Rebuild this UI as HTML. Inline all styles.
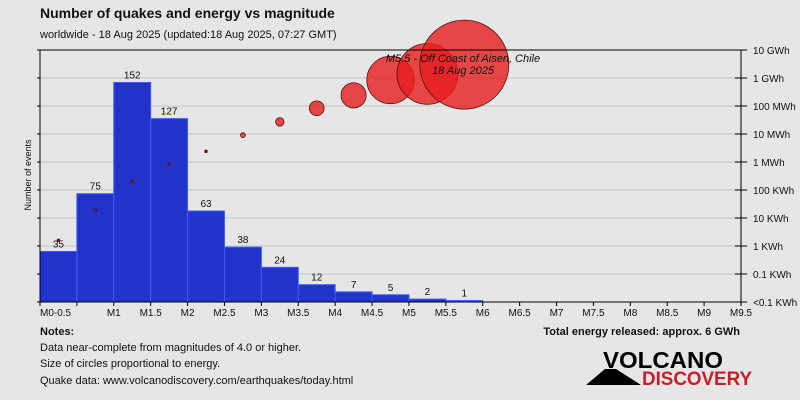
<!DOCTYPE html>
<html><head><meta charset="utf-8"><style>
body{margin:0;background:#e6e6e6;}
svg{display:block;font-family:"Liberation Sans",sans-serif;}
</style></head><body>
<svg id="chart" width="800" height="400" viewBox="0 0 800 400">
<rect width="800" height="400" fill="#e6e6e6"/>
<text x="40" y="18" font-size="14" font-weight="bold" fill="#111">Number of quakes and energy vs magnitude</text>
<text x="40" y="38" font-size="11" fill="#111">worldwide - 18 Aug 2025 (updated:18 Aug 2025, 07:27 GMT)</text>
<g id="grid"></g>
<g id="bars"></g>
<g id="circles"></g>
<g id="axes"></g>
<text x="463" y="62" font-size="11" font-style="italic" text-anchor="middle" fill="#111">M5.5 - Off Coast of Aisen, Chile</text>
<text x="463" y="74" font-size="11" font-style="italic" text-anchor="middle" fill="#111">18 Aug 2025</text>
<text transform="translate(31,175) rotate(-90)" font-size="9" text-anchor="middle" fill="#111">Number of events</text>
<text x="40" y="335" font-size="11" font-weight="bold" fill="#111">Notes:</text>
<text x="40" y="351" font-size="11" fill="#111">Data near-complete from magnitudes of 4.0 or higher.</text>
<text x="40" y="367" font-size="11" fill="#111">Size of circles proportional to energy.</text>
<text x="40" y="384" font-size="11" fill="#111">Quake data: www.volcanodiscovery.com/earthquakes/today.html</text>
<text x="740" y="335" font-size="11" font-weight="bold" text-anchor="end" fill="#111">Total energy released: approx. 6 GWh</text>
<g>
<polygon points="586,385 641,385 616,369 605,369" fill="#000"/>
<text x="603" y="368" font-size="23" font-weight="bold" fill="#000" textLength="120" lengthAdjust="spacingAndGlyphs">VOLCANO</text>
<text x="642" y="385" font-size="19" font-weight="bold" fill="#c8202a" textLength="110" lengthAdjust="spacingAndGlyphs">DISCOVERY</text>
</g>
</svg>
<script>
const magLabels=["M0-0.5","","M1","M1.5","M2","M2.5","M3","M3.5","M4","M4.5","M5","M5.5","M6","M6.5","M7","M7.5","M8","M8.5","M9","M9.5"];
const counts=[35,75,152,127,63,38,24,12,7,5,2,1];
const energyKWh=[16,190,2000,8300,24000,91000,270000,830000,2.4e6,8.5e6,1.4e7,3e7];
const energyTicks=["<0.1 KWh","0.1 KWh","1 KWh","10 KWh","100 KWh","1 MWh","10 MWh","100 MWh","1 GWh","10 GWh"];
const NS="http://www.w3.org/2000/svg";
const L=40,R=741,T=50,B=302,nBins=19,yMax=174.5;
const bw=(R-L)/nBins;
const xPos=i=>L+i*bw;
const yCount=v=>B-v*(B-T)/yMax;
const yEnergy=e=>B-Math.log10(e/0.1)*((B-T)/9);
function mk(tag,attrs,parent){const e=document.createElementNS(NS,tag);for(const k in attrs)e.setAttribute(k,attrs[k]);parent.appendChild(e);return e;}
const grid=document.getElementById('grid'),bars=document.getElementById('bars'),circ=document.getElementById('circles'),axes=document.getElementById('axes');
energyTicks.forEach((t,i)=>{
  const y=B-i*(B-T)/9;
  if(i>0&&i<9){const g=mk('line',{x1:L,x2:R,y1:y,y2:y,stroke:'#c4c4c4','stroke-width':1},grid);
  
  }
  mk('line',{x1:R-6,x2:R+6,y1:y,y2:y,stroke:'#000'},axes);
  mk('line',{x1:L-3,x2:L,y1:y,y2:y,stroke:'#000'},axes);
  const tx=mk('text',{x:R+12,y:y+4,'font-size':10,fill:'#111'},axes);
  tx.textContent=t;
  
  
});
counts.forEach((c,i)=>{
  const last=i===counts.length-1;
  const r=mk('rect',{x:xPos(i),y:yCount(c),width:bw,height:B-yCount(c),fill:last?'#3366ff':'#2233cc',stroke:'#3e5ef0','stroke-width':1},bars);
  
  
  const t=mk('text',{x:xPos(i)+bw/2,y:yCount(c)-4,'font-size':10,'text-anchor':'middle',fill:'#111'},bars);
  t.textContent=c;
  
  
});
const eMax=Math.max(...energyKWh);
energyKWh.forEach((e,i)=>{
  const r=Math.max(1.3,44.5*Math.sqrt(e/eMax));
  const c=mk('circle',{cx:xPos(i)+bw/2,cy:yEnergy(e),r:r,fill:r<2?'#a01010':'rgba(230,30,30,0.8)',stroke:'#5a0e0e','stroke-width':0.8},circ);
  
  
});
mk('line',{x1:L,x2:L,y1:T,y2:B,stroke:'#000'},axes);
mk('line',{x1:R,x2:R,y1:T,y2:B,stroke:'#000'},axes);
mk('line',{x1:L,x2:R,y1:T,y2:T,stroke:'#000'},axes);
mk('line',{x1:L,x2:R,y1:B,y2:B,stroke:'#000'},axes);
magLabels.forEach((m,i)=>{
  const x=xPos(i);
  mk('line',{x1:x,x2:x,y1:B,y2:B+4,stroke:'#000'},axes);
  const t=mk('text',{x:i===0?x:x,y:B+14,'font-size':10,'text-anchor':i===0?'start':'middle',fill:'#111'},axes);
  t.textContent=m;
  
  
});
</script>
</body></html>
